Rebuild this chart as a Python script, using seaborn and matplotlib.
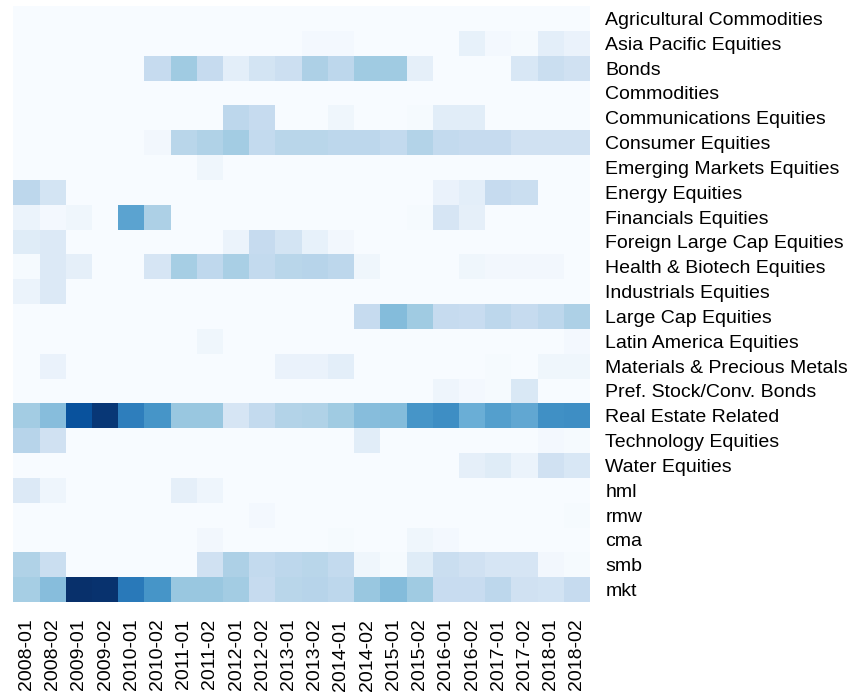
import matplotlib
matplotlib.use("Agg")
import matplotlib.pyplot as plt
import seaborn as sns
import pandas as pd
import numpy as np

periods = [f"{y}-0{h}" for y in range(2008, 2019) for h in (1, 2)]

categories = [
    "Agricultural Commodities", "Asia Pacific Equities", "Bonds", "Commodities",
    "Communications Equities", "Consumer Equities", "Emerging Markets Equities",
    "Energy Equities", "Financials Equities", "Foreign Large Cap Equities",
    "Health & Biotech Equities", "Industrials Equities", "Large Cap Equities",
    "Latin America Equities", "Materials & Precious Metals",
    "Pref. Stock/Conv. Bonds", "Real Estate Related", "Technology Equities",
    "Water Equities", "hml", "rmw", "cma", "smb", "mkt",
]

agri        = [0, 0, 0, 0, 0, 0, 0, 0, 0, 0, 0, 0, 0, 0, 0, 0, 0, 0, 0, 0, 0, 0]
asia        = [0, 0, 0, 0, 0, 0, 0, 0, 0, 0, 0, .02, .02, 0, 0, 0, 0, .08, .02, .01, .10, .07]
bonds       = [0, 0, 0, 0, 0, .25, .37, .25, .10, .18, .22, .33, .28, .37, .37, .09, 0, 0, 0, .16, .23, .20]
commod      = [0, 0, 0, 0, 0, 0, 0, 0, 0, 0, 0, 0, 0, 0, 0, 0, 0, 0, 0, 0, 0, 0]
comms       = [0, 0, 0, 0, 0, 0, 0, 0, .28, .25, 0, 0, .04, 0, 0, .01, .11, .11, 0, 0, 0, 0]
consumer    = [0, 0, 0, 0, 0, .03, .29, .32, .36, .26, .29, .29, .28, .28, .26, .31, .26, .25, .25, .20, .20, .20]
emerging    = [0, 0, 0, 0, 0, 0, 0, .04, 0, 0, 0, 0, 0, 0, 0, 0, 0, 0, 0, 0, 0, 0]
energy      = [.28, .18, 0, 0, 0, 0, 0, 0, 0, 0, 0, 0, 0, 0, 0, 0, .07, .10, .25, .23, 0, 0]
financials  = [.06, .02, .04, 0, .55, .33, 0, 0, 0, 0, 0, 0, 0, 0, 0, .01, .17, .09, 0, 0, 0, 0]
foreign     = [.12, .14, 0, 0, 0, 0, 0, 0, .06, .25, .18, .08, .03, 0, 0, 0, 0, 0, 0, 0, 0, 0]
health      = [.01, .14, .09, 0, 0, .17, .35, .27, .34, .26, .29, .30, .28, .04, 0, 0, 0, .04, .03, .03, .03, 0]
industrials = [.06, .14, 0, 0, 0, 0, 0, 0, 0, 0, 0, 0, 0, 0, 0, 0, 0, 0, 0, 0, 0, 0]
largecap    = [0, 0, 0, 0, 0, 0, 0, 0, 0, 0, 0, 0, 0, .25, .44, .37, .25, .24, .28, .25, .28, .33]
latam       = [0, 0, 0, 0, 0, 0, 0, .04, 0, 0, 0, 0, 0, 0, 0, 0, 0, 0, 0, 0, 0, .02]
materials   = [0, .07, 0, 0, 0, 0, 0, 0, 0, 0, .07, .07, .10, 0, 0, 0, 0, 0, .01, 0, .04, .04]
pref        = [0, 0, 0, 0, 0, 0, 0, 0, 0, 0, 0, 0, 0, 0, 0, 0, .05, .02, .01, .15, 0, 0]
realestate  = [.36, .43, .87, .97, .70, .61, .39, .39, .17, .26, .31, .32, .37, .43, .44, .61, .64, .50, .57, .53, .63, .64]
technology  = [.30, .20, 0, 0, 0, 0, 0, 0, 0, 0, 0, 0, 0, .11, 0, 0, 0, 0, 0, 0, .02, .01]
water       = [0, 0, 0, 0, 0, 0, 0, 0, 0, 0, 0, 0, 0, 0, 0, 0, 0, .09, .12, .06, .20, .16]
hml         = [.14, .05, 0, 0, 0, 0, .09, .05, 0, 0, 0, 0, 0, 0, 0, 0, 0, 0, 0, 0, 0, 0]
rmw         = [0, 0, 0, 0, 0, 0, 0, 0, 0, .02, 0, 0, 0, 0, 0, 0, 0, 0, 0, 0, 0, .01]
cma         = [0, 0, 0, 0, 0, 0, 0, .03, 0, 0, 0, 0, .01, 0, 0, .04, .02, 0, 0, 0, 0, 0]
smb         = [.32, .23, 0, 0, 0, 0, 0, .20, .33, .26, .28, .29, .26, .04, .01, .12, .23, .20, .17, .17, .03, .01]
mkt         = [.35, .43, 1.0, .99, .72, .61, .39, .39, .36, .25, .29, .30, .28, .39, .44, .37, .24, .24, .28, .20, .19, .25]

rows = [agri, asia, bonds, commod, comms, consumer, emerging, energy, financials,
        foreign, health, industrials, largecap, latam, materials, pref, realestate,
        technology, water, hml, rmw, cma, smb, mkt]

df = pd.DataFrame(rows, index=categories, columns=periods)

sns.set_theme(style="white")
plt.rcParams['font.family'] = ['Liberation Sans', 'DejaVu Sans']

fig = plt.figure(figsize=(8.5, 6.96), dpi=100)
ax = fig.add_axes([13.3 / 850, 1 - 602 / 696, (590 - 13.3) / 850, 596 / 696])
sns.heatmap(df, cmap="Blues", vmin=0, vmax=1, cbar=False, ax=ax,
            xticklabels=True, yticklabels=True)
ax.yaxis.tick_right()
ax.tick_params(axis='y', length=0, pad=11, labelsize=14, rotation=0, colors='black')
ax.tick_params(axis='x', length=0, pad=12, labelsize=14, rotation=90, colors='black')
ax.set_xlabel("")
ax.set_ylabel("")
fig.savefig("out.png", dpi=100)
